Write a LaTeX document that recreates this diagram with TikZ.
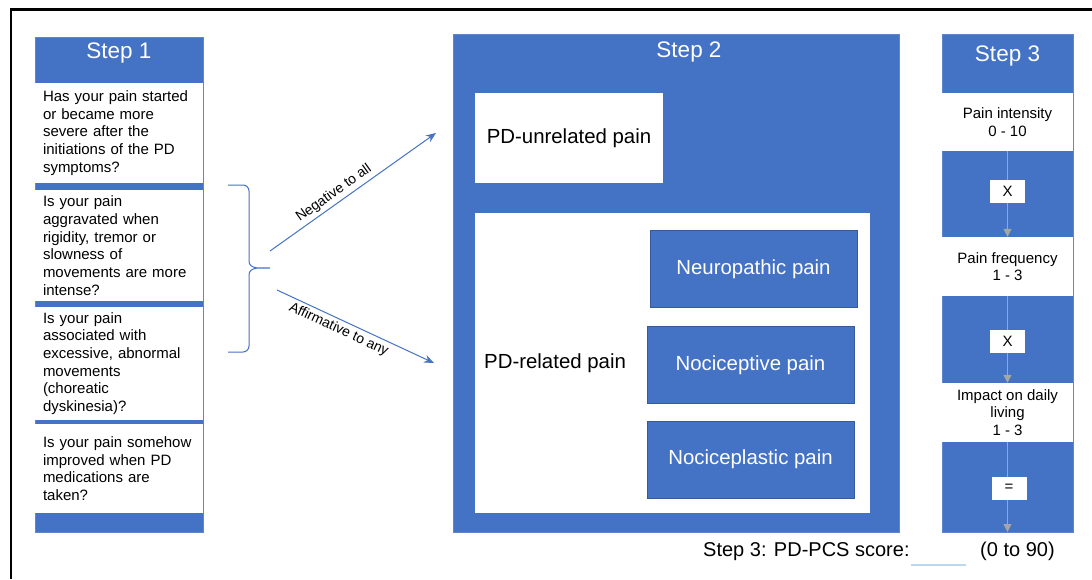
\documentclass[tikz,border=0pt]{standalone}
\usepackage{fontspec}
\setmainfont{Liberation Sans}
\usetikzlibrary{arrows.meta,positioning}
\definecolor{pcsblue}{HTML}{4472C4}
\definecolor{pcsgray}{HTML}{A6A6A6}
\definecolor{pcspale}{HTML}{BDD7EE}

\begin{document}
\begin{tikzpicture}[x=1pt, y=-1pt,
  panel/.style={fill=pcsblue, draw=pcsblue!85!white, line width=0.5pt, inner sep=0pt},
  head/.style={text=white, inner sep=0pt, font=\fontsize{22.5}{26}\selectfont},
  quest/.style={fill=white, minimum width=168pt, text width=152pt, align=left,
                inner xsep=8pt, inner ysep=0pt, font=\fontsize{15}{17.7}\selectfont},
  cat/.style={fill=white, inner sep=0pt, font=\fontsize{20.4}{24}\selectfont},
  sub/.style={fill=pcsblue, draw=pcsblue!80!black, line width=0.6pt, text=white,
              minimum width=207pt, minimum height=77pt, font=\fontsize{20.4}{24}\selectfont},
  score/.style={fill=white, minimum width=131pt, align=center, inner sep=0pt,
                font=\fontsize{15}{17.5}\selectfont},
  op/.style={fill=white, minimum width=35pt, minimum height=23pt, inner sep=0pt,
             font=\fontsize{15}{17}\selectfont},
  flow/.style={draw=pcsblue, line width=1pt, -{Stealth[length=10pt, width=8pt]}},
  brace/.style={draw=pcsblue, line width=1pt},
  tag/.style={font=\fontsize{14}{16}\selectfont, sloped, inner sep=3pt},
  link/.style={draw=pcsgray, line width=1pt, -{Triangle[length=8pt, width=8pt]}},
  note/.style={font=\fontsize{20}{24}\selectfont, inner sep=0pt, anchor=base west}
]
  \useasboundingbox (0,0) rectangle (1092,579);
  \draw[line width=2.5pt] (1092,9.5) -- (11,9.5) -- (11,579);

  % step 1: screening questions
  \node[panel, minimum width=168pt, minimum height=495pt] (step1) at (119,284.5) {};
  \node[head] (head1) at (119,53) {Step 1};
  \node[quest, minimum height=100pt] (q1) at (119,133)
    {Has your pain started\\or became more\\severe after the\\initiations of the PD\\symptoms?};
  \node[quest, minimum height=111pt] (q2) at (119,245.5)
    {Is your pain\\aggravated when\\rigidity, tremor or\\slowness of\\movements are more\\intense?};
  \node[quest, minimum height=113pt] (q3) at (119,363.5)
    {Is your pain\\associated with\\excessive, abnormal\\movements\\(choreatic\\dyskinesia)?};
  \node[quest, minimum height=89pt] (q4) at (119,468.5)
    {Is your pain somehow\\improved when PD\\medications are\\taken?};

  % brace and the two answers
  \coordinate (fork) at (270,268);
  \draw[brace] (228,185) -- (243,185) to[out=0, in=90] (249,191) -- (249,261)
    to[out=-90, in=180] (fork) to[out=180, in=90] (249,275) -- (249,346)
    to[out=-90, in=0] (243,352) -- (228,352);
  \coordinate (negfrom) at (270,251);
  \coordinate (negto)   at (436,133);
  \coordinate (afffrom) at (277,290);
  \coordinate (affto)   at (434,363);
  \draw[flow] (negfrom) -- node[tag, above, pos=0.42] {Negative to all} (negto);
  \draw[flow] (afffrom) -- node[tag, below, pos=0.42] {Affirmative to any} (affto);

  % step 2: pain categories
  \node[panel, minimum width=446pt, minimum height=498pt] (step2) at (676,283) {};
  \node[head] (head2) at (689,52) {Step 2};
  \node[cat, minimum width=188pt, minimum height=90pt] (unrel) at (569,138) {PD-unrelated pain};
  \node[cat, minimum width=395pt, minimum height=300pt] (rel) at (672.5,363) {};
  \node[cat, anchor=west] (reltext) at (484,363) {PD-related pain};
  \node[sub] (neuro) at (753.5,269) {Neuropathic pain};
  \node[sub] (noci)  at (750.5,365) {Nociceptive pain};
  \node[sub] (plast) at (750.5,459.5) {Nociceplastic pain};

  % step 3: score
  \node[panel, minimum width=131pt, minimum height=498pt] (step3) at (1007.5,283) {};
  \node[head] (head3) at (1007.5,56) {Step 3};
  \node[score, minimum height=58pt] (inten)  at (1007.5,122)   {Pain intensity\\0 - 10};
  \node[score, minimum height=59pt] (freq)   at (1007.5,266.5) {Pain frequency\\1 - 3};
  \node[score, minimum height=59pt] (impact) at (1007.5,412.5) {Impact on daily\\living\\1 - 3};
  \coordinate (pcsend) at (1007.5,532);
  \draw[link] (inten) -- (freq);
  \draw[link] (freq) -- (impact);
  \draw[link] (impact) -- (pcsend);
  \node[op] (times1) at (1007.5,191.5) {X};
  \node[op] (times2) at (1007.5,341)   {X};
  \node[op] (equals) at (1009,488)     {=};

  \node[note] (pcs)   at (703,556) {Step 3: PD-PCS score:};
  \node[note] (range) at (980,556) {(0 to 90)};
  \node[fill=pcspale, minimum width=55pt, minimum height=1.5pt, inner sep=0pt] (blank) at (938.5,565) {};
\end{tikzpicture}
\end{document}
